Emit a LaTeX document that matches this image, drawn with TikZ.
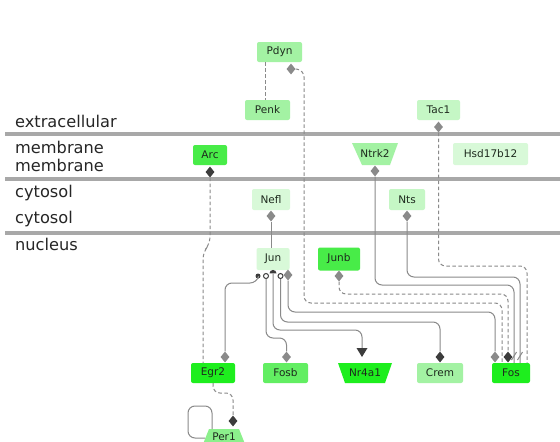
\documentclass[tikz,border=0pt]{standalone}
\usepackage{fontspec}
\setmainfont{DejaVu Sans}
\usetikzlibrary{shapes.geometric,arrows.meta}
\definecolor{cA}{HTML}{A3F2A3}
\definecolor{cB}{HTML}{C5F7C5}
\definecolor{cC}{HTML}{48EC48}
\definecolor{cD}{HTML}{D8F9D8}
\definecolor{cE}{HTML}{1EEE1E}
\definecolor{cF}{HTML}{62EE62}
\definecolor{cG}{HTML}{8CF08C}
\definecolor{lanec}{HTML}{A8A8A8}
\definecolor{linec}{HTML}{8A8A8A}
\definecolor{darkc}{HTML}{3C3C3C}
\definecolor{txtc}{HTML}{1E2A1E}
\tikzset{
  gene/.style={rectangle, rounded corners=2pt, minimum height=20pt, inner sep=1pt,
    text=txtc, font=\fontsize{10.5}{12}\selectfont},
  lbl/.style={rectangle, inner sep=1pt, text=txtc, font=\fontsize{10.5}{12}\selectfont},
  lanelbl/.style={anchor=base west, inner sep=0pt, text=black!85, font=\fontsize{16.2}{18}\selectfont},
  lane/.style={draw=lanec, line width=4pt},
  conn/.style={draw=linec, line width=1pt, rounded corners=7pt},
  dconn/.style={conn, dash pattern=on 3.5pt off 2.5pt},
  gdia/.style={diamond, fill=linec, minimum width=9pt, minimum height=11pt, inner sep=0pt},
  ddia/.style={diamond, fill=darkc, minimum width=9pt, minimum height=11pt, inner sep=0pt},
  jdot/.style={circle, fill=darkc, minimum size=5pt, inner sep=0pt},
  jring/.style={circle, draw=darkc, fill=white, line width=1pt, minimum size=5pt, inner sep=0pt},
  jcap/.style={semicircle, fill=darkc, minimum width=7pt, inner sep=0pt},
}
\begin{document}
\begin{tikzpicture}[x=1pt,y=-1pt]
\useasboundingbox (0,0) rectangle (560,442);
\fill[white] (0,0) rectangle (560,442);

% compartments
\draw[lane] (5,134) -- (560,134);
\draw[lane] (5,179) -- (560,179);
\draw[lane] (5,233) -- (560,233);
\node[lanelbl] (t1) at (15,127) {extracellular};
\node[lanelbl] (t2) at (15,153) {membrane};
\node[lanelbl] (t3) at (15,171) {membrane};
\node[lanelbl] (t4) at (15,197) {cytosol};
\node[lanelbl] (t5) at (15,223) {cytosol};
\node[lanelbl] (t6) at (15,250) {nucleus};

% shaped backgrounds
\fill[cA] (352,143) -- (398,143) -- (390,165) -- (362,165) -- cycle;
\fill[cE] (338,363) -- (392,363) -- (385,383) -- (345,383) -- cycle;
\fill[cG] (209,429) -- (239,429) -- (247,449) -- (201,449) -- cycle;

% genes
\node[gene, fill=cA, minimum width=45pt] (pdyn) at (279.5,52) {Pdyn};
\node[gene, fill=cA, minimum width=45pt] (penk) at (267.5,110) {Penk};
\node[gene, fill=cB, minimum width=43pt] (tac1) at (438.5,110) {Tac1};
\node[gene, fill=cC, minimum width=34pt] (arc) at (210,155) {Arc};
\node[lbl, minimum width=46pt, minimum height=22pt] (ntrk2) at (375,154) {Ntrk2};
\node[gene, fill=cD, minimum width=75pt, minimum height=22pt] (hsd) at (490.5,154) {Hsd17b12};
\node[gene, fill=cD, minimum width=38pt, minimum height=21pt] (nefl) at (271,199.5) {Nefl};
\node[gene, fill=cB, minimum width=36pt, minimum height=21pt] (nts) at (407,199.5) {Nts};
\node[gene, fill=cD, minimum width=33pt, minimum height=22pt] (jun) at (273,259) {Jun};
\node[gene, fill=cC, minimum width=42pt, minimum height=23pt] (junb) at (339,259) {Junb};
\node[gene, fill=cE, minimum width=44pt] (egr2) at (213,373) {Egr2};
\node[gene, fill=cF, minimum width=45pt] (fosb) at (285.5,373) {Fosb};
\node[lbl, minimum width=54pt, minimum height=20pt] (nr4a1) at (365,373) {Nr4a1};
\node[gene, fill=cA, minimum width=46pt] (crem) at (440,373) {Crem};
\node[gene, fill=cE, minimum width=38pt] (fos) at (511,373) {Fos};
\node[lbl, inner sep=0.5pt] (per1) at (224,436.5) {Per1};

% markers
\node[gdia] (pdynd) at (291,69) {};
\node[gdia] (tac1d) at (438.5,127) {};
\node[ddia] (arcd) at (210,172) {};
\node[gdia] (ntrk2d) at (375,171) {};
\node[gdia] (nefld) at (271,216) {};
\node[gdia] (ntsd) at (407,216) {};
\node[gdia] (junbd) at (339,276) {};
\node[jdot] (jm1) at (258,276) {};
\node[jring] (jm2) at (266,276) {};
\node[jcap] (jm3) at (273,272) {};
\node[jring] (jm4) at (280.5,276) {};
\node[gdia] (jm5) at (288,275) {};
\node[gdia] (egr2d) at (225,357) {};
\node[gdia] (fosbd) at (286.5,357) {};
\node[ddia] (cremd) at (440,357) {};
\node[gdia] (fosd1) at (495,357) {};
\node[ddia] (fosd2) at (508,357) {};
\node[ddia] (per1d) at (233,421) {};
\coordinate (nrtip) at (362,357);
\coordinate (fosa) at (514,363);
\coordinate (fosb2) at (520,363);
\coordinate (fosc) at (527,363);
\coordinate (fose) at (502,363);
\coordinate (egrx) at (203,363);
\coordinate (perin) at (212,429);

% connectors
\draw[dconn] ([xshift=-14.5pt]pdyn.south) -- ([xshift=-2.5pt]penk.north);
\draw[dconn] (pdynd.east) -- (304,70) -- (304,303) -- (502,303) -- (fose);
\draw[dconn] (tac1d.south) -- (438.5,266) -- (527,266) -- (fosc);
\draw[conn] (ntrk2d.south) -- (375,285) -- (514,285) -- (fosa);
\draw[conn] (ntsd.south) -- (407,277) -- (520,277) -- (fosb2);
\draw[dconn] (arcd.south) -- (210,244) -- (203,252) -- (egrx);
\draw[conn] (nefld.south) -- (jun.north -| nefld);
\draw[dconn] (junbd.south) -- (339,294) -- (508,294) -- (fosd2.north);
\draw[conn] (jm1.south) -- (257,283) -- (225,283) -- (egr2d.north);
\draw[conn] (jm2.south) -- (266,338) -- (286.5,338) -- (fosbd.north);
\draw[conn] (jm3.south) -- (273,330) -- (362,330) -- (362,350);
\draw[conn] (jm4.south) -- (280.5,322) -- (440,322) -- (cremd.north);
\draw[conn] (jm5.south) -- (288,312) -- (495,312) -- (fosd1.north);
\draw[dconn] (egr2.south) -- (213,393) -- (233,393) -- (per1d.north);
\draw[conn] (205,438) -- (188,438) -- (188,406) -- (212,406) -- (perin);

% Nr4a1 arrow head
\fill[darkc] (356.5,348) -- (367.5,348) -- (nrtip) -- cycle;
% open marks on Fos
\draw[linec, line width=1pt] (511.5,360) -- (516.5,352);
\draw[linec, line width=1pt] (517.5,360) -- (522.5,352);
\end{tikzpicture}
\end{document}
